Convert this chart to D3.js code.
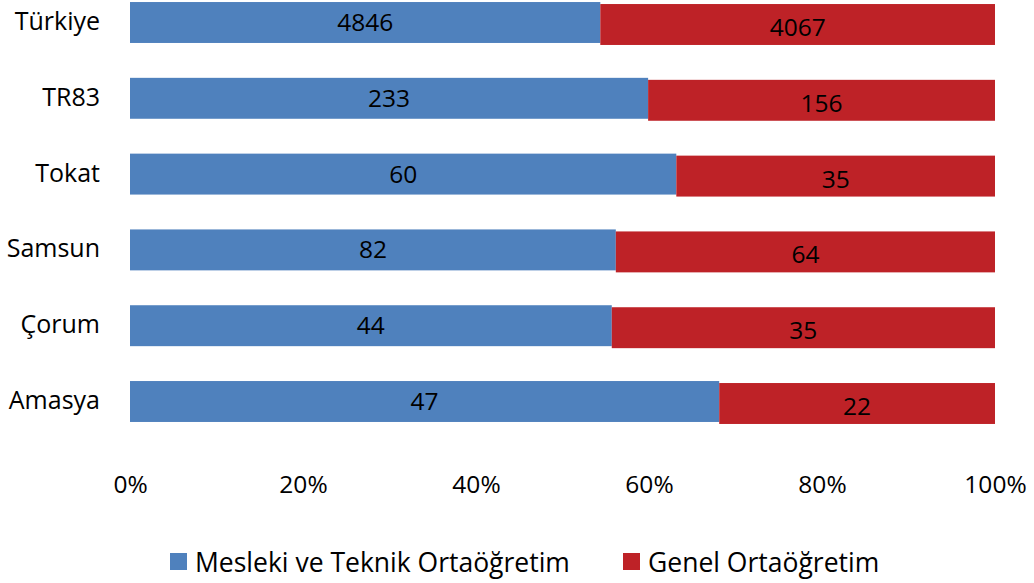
<!DOCTYPE html>
<html>
<head>
<meta charset="utf-8">
<script src="https://cdn.jsdelivr.net/npm/d3@7/dist/d3.min.js"></script>
<style>
  html, body { margin: 0; padding: 0; background: #fff; }
  svg { display: block; font-family: "Open Sans", sans-serif; }
</style>
</head>
<body>
<svg id="chart" width="1034" height="583"></svg>
<script>
// Öğrenci sayıları: bölgelere göre ortaöğretim türleri
const regions = ["Türkiye", "TR83", "Tokat", "Samsun", "Çorum", "Amasya"];
const meslekiTeknik = [4846, 233, 60, 82, 44, 47];
const genel = [4067, 156, 35, 64, 35, 22];
const seriesNames = ["Mesleki ve Teknik Ortaöğretim", "Genel Ortaöğretim"];
const tickValues = [0, 0.2, 0.4, 0.6, 0.8, 1];

const colors = ["#4F81BD", "#BE2227"];

const svg = d3.select("#chart");

const x = d3.scaleLinear().domain([0, 1]).range([130, 995]);
const y = d3.scaleBand().domain(regions).range([-15.4, 439.4])
  .paddingInner(0.46).paddingOuter(0.23);

// stacked shares per region
const rows = regions.map((r, i) => ({ region: r, a: meslekiTeknik[i], b: genel[i] }));
const stack = d3.stack().keys(["a", "b"]).offset(d3.stackOffsetExpand);
const layers = stack(rows);
const raw = [meslekiTeknik, genel];
const nudge = [0, 2];      // the second series sits slightly lower
const labelNudge = [0, 5];

layers.forEach((layer, k) => {
  const g = svg.append("g");
  g.selectAll("rect").data(layer).join("rect")
    .attr("x", d => x(d[0]))
    .attr("y", d => y(d.data.region) + nudge[k])
    .attr("width", d => x(d[1]) - x(d[0]))
    .attr("height", y.bandwidth())
    .attr("fill", colors[k]);
  g.selectAll("text").data(layer).join("text")
    .attr("x", d => (x(d[0]) + x(d[1])) / 2)
    .attr("y", d => y(d.data.region) + y.bandwidth() / 2 + labelNudge[k] - 1)
    .attr("text-anchor", "middle")
    .attr("dominant-baseline", "central")
    .attr("font-size", 24.5)
    .attr("fill", "#000")
    .text((d, i) => raw[k][i]);
});

// category axis (labels only)
const yAxis = svg.append("g").attr("transform", "translate(130,0)")
  .call(d3.axisLeft(y).tickSize(0).tickPadding(30));
yAxis.select(".domain").remove();
yAxis.selectAll("text").attr("font-size", 25).attr("fill", "#000")
  .attr("font-family", "Open Sans, sans-serif").attr("dy", "0.3em");

// percentage axis (labels only)
const xAxis = svg.append("g").attr("transform", "translate(0,470)")
  .call(d3.axisBottom(x).tickValues(tickValues).tickFormat(d3.format(".0%")).tickSize(0).tickPadding(0));
xAxis.select(".domain").remove();
xAxis.selectAll("text").attr("font-size", 24.5).attr("fill", "#000")
  .attr("font-family", "Open Sans, sans-serif").attr("dy", "0.95em");

// legend
const legendX = [170, 623];
const legend = svg.append("g");
seriesNames.forEach((name, k) => {
  legend.append("rect").attr("x", legendX[k]).attr("y", 553)
    .attr("width", 17).attr("height", 17).attr("fill", colors[k]);
  legend.append("text").attr("x", legendX[k] + 25).attr("y", 571.5)
    .attr("font-size", 26.5).attr("fill", "#000").text(name);
});
</script>
</body>
</html>
